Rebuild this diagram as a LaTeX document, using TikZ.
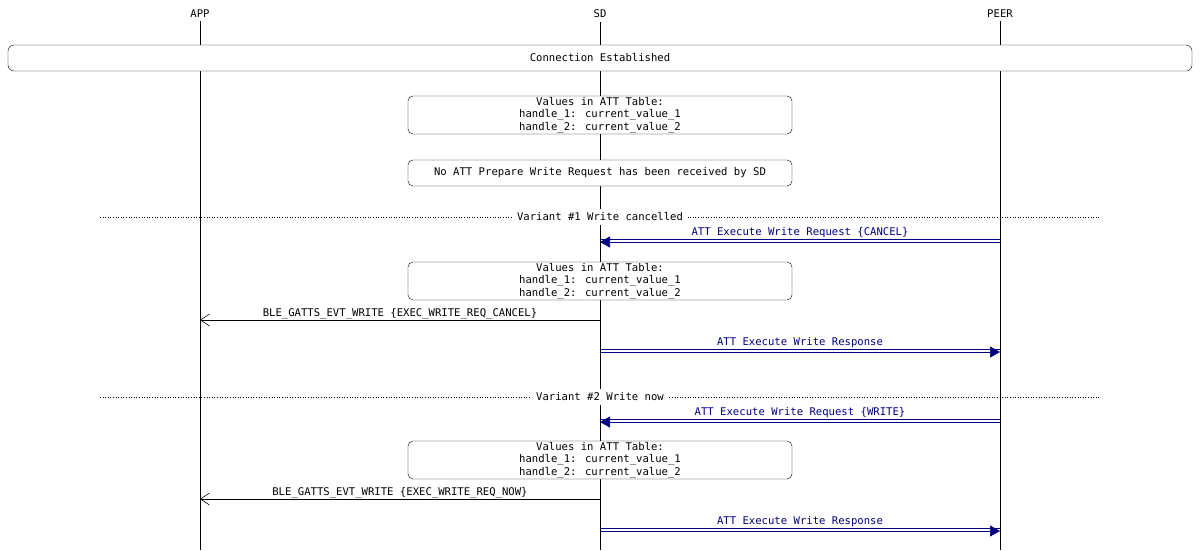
\documentclass[tikz,border=0pt]{standalone}
\usepackage{fontspec}
\setmainfont{DejaVu Sans Mono}
\usetikzlibrary{arrows.meta,positioning}
\definecolor{msgblue}{RGB}{0,0,128}
\newcommand\ulbl[1]{\underline{#1}}
\begin{document}
\begin{tikzpicture}[x=1pt,y=-1pt,
  font=\fontsize{10.6}{12.5}\selectfont,
  life/.style={draw=black,line width=0.6pt},
  note/.style={draw,rounded corners=5pt,align=center,minimum width=384pt,inner sep=1pt},
  sdl/.style={draw=msgblue,line width=0.7pt,
    -{Triangle[length=10pt,width=11pt,fill=msgblue]},
    preaction={draw=msgblue,line width=0.7pt,arrows=-,transform canvas={yshift=2.2pt}}},
  evt/.style={draw=black,line width=0.6pt,-{Straight Barb[length=9pt,width=12pt]}},
  mlbl/.style={text=msgblue,above,inner sep=2pt},
  blbl/.style={above,inner sep=1pt},
  sep/.style={dotted,line width=0.6pt}]

  \useasboundingbox (0,0) rectangle (1200,550);

  %% lifelines
  \node (app)  at (200,14) {APP};
  \node (sd)   at (600,14) {SD};
  \node (peer) at (1000,14) {PEER};
  \foreach \n/\x in {app/200,sd/600,peer/1000}
    \draw[life] (\n.south) -- (\x,550);

  \node[draw,rounded corners=6pt,fill=white,minimum width=1184pt,minimum height=26pt]
    (conn) at (600,58) {Connection Established};

  \node[note,fill=white,minimum height=38pt] (tab0) at (600,115)
    {Values in ATT Table:\\handle\_1: current\_value\_1\\handle\_2: current\_value\_2};
  \node[note,fill=white,minimum height=26pt] (noprep) at (600,173)
    {No ATT Prepare Write Request has been received by SD};

  %% variant 1
  \draw[sep] (100,217) -- (1100,217);
  \node[fill=white,inner sep=4pt] (var1) at (600,217) {Variant \#1 Write cancelled};
  \coordinate (p1) at (1000,242); \coordinate (s1) at (600,242);
  \draw[sdl] (p1) -- node[mlbl]{\ulbl{ATT Execute Write Request \{CANCEL\}}} (s1);
  \node[note,fill=white,minimum height=38pt] (tab1) at (600,281)
    {Values in ATT Table:\\handle\_1: current\_value\_1\\handle\_2: current\_value\_2};
  \coordinate (s2) at (600,320); \coordinate (a2) at (200,320);
  \draw[evt] (s2) -- node[blbl]{BLE\_GATTS\_EVT\_WRITE \{EXEC\_WRITE\_REQ\_CANCEL\}} (a2);
  \coordinate (s3) at (600,352); \coordinate (p3) at (1000,352);
  \draw[sdl] (s3) -- node[mlbl]{\ulbl{ATT Execute Write Response}} (p3);

  %% variant 2
  \draw[sep] (100,397) -- (1100,397);
  \node[fill=white,inner sep=4pt] (var2) at (600,397) {Variant \#2 Write now};
  \coordinate (p4) at (1000,422); \coordinate (s4) at (600,422);
  \draw[sdl] (p4) -- node[mlbl]{\ulbl{ATT Execute Write Request \{WRITE\}}} (s4);
  \node[note,fill=white,minimum height=38pt] (tab2) at (600,460)
    {Values in ATT Table:\\handle\_1: current\_value\_1\\handle\_2: current\_value\_2};
  \coordinate (s5) at (600,499); \coordinate (a5) at (200,499);
  \draw[evt] (s5) -- node[blbl]{BLE\_GATTS\_EVT\_WRITE \{EXEC\_WRITE\_REQ\_NOW\}} (a5);
  \coordinate (s6) at (600,531); \coordinate (p6) at (1000,531);
  \draw[sdl] (s6) -- node[mlbl]{\ulbl{ATT Execute Write Response}} (p6);

\end{tikzpicture}
\end{document}
